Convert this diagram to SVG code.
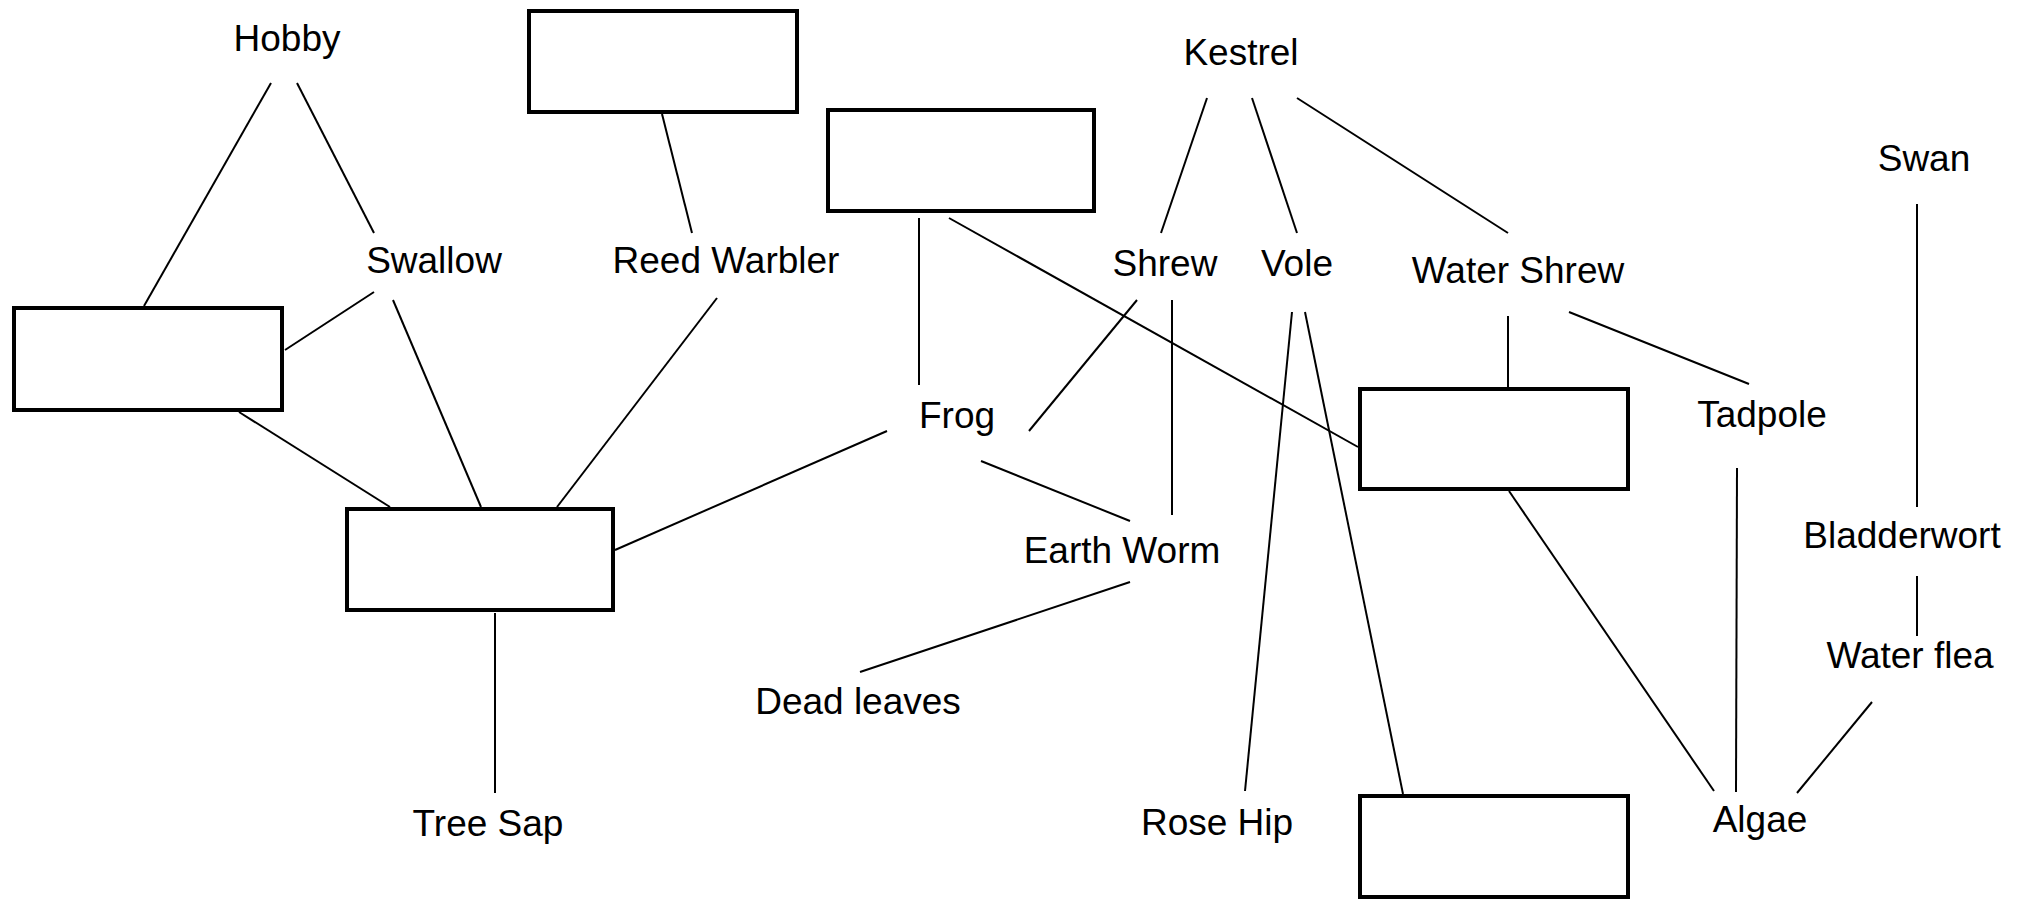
<svg xmlns="http://www.w3.org/2000/svg" width="2020" height="901" viewBox="0 0 2020 901">
<style>
.box{fill:#fff;stroke:#000;stroke-width:4}
.lbl{font-family:"Liberation Sans",Arial,sans-serif;font-size:37px;fill:#000;text-anchor:middle}
.edges line{stroke:#000;stroke-width:2}
</style>
<rect width="2020" height="901" fill="#fff"/>
<g class="edges" id="connectors">
<line x1="271" y1="83" x2="144" y2="306"/>
<line x1="297" y1="83" x2="374" y2="233"/>
<line x1="374" y1="292" x2="285" y2="350"/>
<line x1="393" y1="300" x2="481" y2="507"/>
<line x1="239" y1="412" x2="390" y2="507"/>
<line x1="662" y1="114" x2="692" y2="233"/>
<line x1="717" y1="298" x2="557" y2="507"/>
<line x1="1207" y1="98" x2="1161" y2="233"/>
<line x1="1252" y1="98" x2="1297" y2="233"/>
<line x1="1297" y1="98" x2="1508" y2="233"/>
<line x1="919" y1="218" x2="919" y2="385"/>
<line x1="949" y1="218" x2="1358" y2="447"/>
<line x1="1137" y1="300" x2="1029" y2="431"/>
<line x1="1172" y1="300" x2="1172" y2="515"/>
<line x1="1292" y1="312" x2="1245" y2="791"/>
<line x1="1305" y1="312" x2="1403" y2="794"/>
<line x1="887" y1="431" x2="615" y2="550"/>
<line x1="981" y1="461" x2="1130" y2="521"/>
<line x1="1130" y1="582" x2="860" y2="672"/>
<line x1="495" y1="613" x2="495" y2="793"/>
<line x1="1508" y1="316" x2="1508" y2="387"/>
<line x1="1569" y1="312" x2="1749" y2="384"/>
<line x1="1509" y1="491" x2="1714" y2="791"/>
<line x1="1737" y1="468" x2="1736" y2="792"/>
<line x1="1917" y1="204" x2="1917" y2="507"/>
<line x1="1917" y1="576" x2="1917" y2="636"/>
<line x1="1872" y1="702" x2="1797" y2="793"/>
</g>
<g id="box-a"><rect class="box" x="529" y="11" width="268" height="101"/></g>
<g id="box-b"><rect class="box" x="828" y="110" width="266" height="101"/></g>
<g id="box-c"><rect class="box" x="14" y="308" width="268" height="102"/></g>
<g id="box-d"><rect class="box" x="347" y="509" width="266" height="101"/></g>
<g id="box-e"><rect class="box" x="1360" y="389" width="268" height="100"/></g>
<g id="box-f"><rect class="box" x="1360" y="796" width="268" height="101"/></g>
<g id="hobby"><text class="lbl" x="287" y="51">Hobby</text></g>
<g id="swallow"><text class="lbl" x="434" y="273">Swallow</text></g>
<g id="reed-warbler"><text class="lbl" x="726" y="273">Reed Warbler</text></g>
<g id="kestrel"><text class="lbl" x="1241" y="65">Kestrel</text></g>
<g id="shrew"><text class="lbl" x="1165" y="276">Shrew</text></g>
<g id="vole"><text class="lbl" x="1297" y="276">Vole</text></g>
<g id="water-shrew"><text class="lbl" x="1518" y="283">Water Shrew</text></g>
<g id="swan"><text class="lbl" x="1924" y="171">Swan</text></g>
<g id="frog"><text class="lbl" x="957" y="428">Frog</text></g>
<g id="tadpole"><text class="lbl" x="1762" y="427">Tadpole</text></g>
<g id="earth-worm"><text class="lbl" x="1122" y="563">Earth Worm</text></g>
<g id="bladderwort"><text class="lbl" x="1902" y="548">Bladderwort</text></g>
<g id="water-flea"><text class="lbl" x="1910" y="668">Water flea</text></g>
<g id="dead-leaves"><text class="lbl" x="858" y="714">Dead leaves</text></g>
<g id="tree-sap"><text class="lbl" x="488" y="836">Tree Sap</text></g>
<g id="rose-hip"><text class="lbl" x="1217" y="835">Rose Hip</text></g>
<g id="algae"><text class="lbl" x="1760" y="832">Algae</text></g>
</svg>
